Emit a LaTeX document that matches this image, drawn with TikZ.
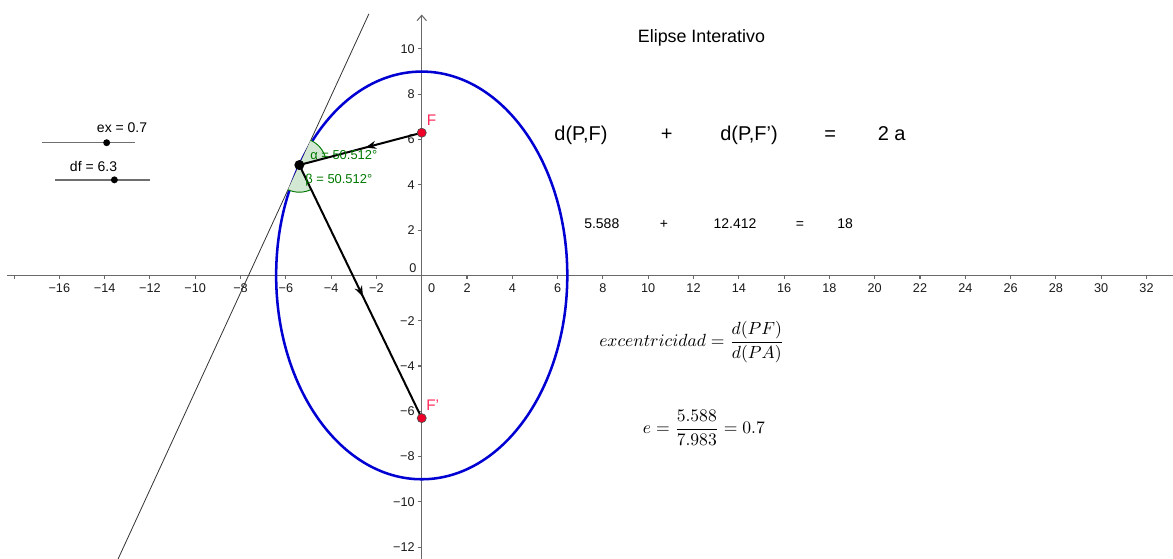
\documentclass[tikz,border=0pt]{standalone}
\usepackage{graphicx}
\usepackage{fontspec}
\setmainfont{Liberation Sans}
\usetikzlibrary{arrows.meta,decorations.markings}
\definecolor{ellblue}{RGB}{0,0,210}
\definecolor{axgray}{RGB}{105,105,105}
\definecolor{anggreen}{RGB}{0,120,0}
\definecolor{angfill}{RGB}{210,232,210}
\definecolor{ptred}{RGB}{240,0,40}
\definecolor{lblred}{RGB}{255,40,90}
\definecolor{slgray}{RGB}{110,110,110}
\pgfdeclarelayer{bg}
\pgfsetlayers{bg,main}
\begin{document}
\begin{tikzpicture}[x=16.99pt,y=16.99pt,
  axisline/.style={draw=axgray,line width=0.8pt},
  ticklbl/.style={font=\fontsize{9.5}{10}\selectfont,text=black!90,inner sep=0pt},
  ellline/.style={draw=ellblue,line width=1.9pt},
  tanline/.style={draw=black!80,line width=0.6pt},
  vec/.style={draw=black,line width=1.5pt},
  bigtxt/.style={font=\fontsize{15}{18}\selectfont,anchor=base,inner sep=0pt},
  smalltxt/.style={font=\fontsize{10.5}{12}\selectfont,anchor=base,inner sep=0pt},
  sltxt/.style={font=\fontsize{10.5}{12}\selectfont,anchor=base,inner sep=0pt},
  angtxt/.style={font=\fontsize{9.7}{11}\selectfont,text=anggreen,anchor=west,inner sep=0pt},
  ptlbl/.style={font=\fontsize{11.5}{13}\selectfont,text=lblred,anchor=base west,inner sep=0pt},
  bigpt/.style={circle,fill=black,inner sep=0pt,minimum size=7.5pt},
  redpt/.style={circle,fill=ptred,draw=black!70,line width=0.5pt,inner sep=0pt,minimum size=6.8pt},
  slpt/.style={circle,fill=black,inner sep=0pt,minimum size=5.2pt},
  slline/.style={draw=slgray,line width=1.1pt},
  formula/.style={inner sep=0pt},
  angarc/.style={draw=anggreen,line width=0.7pt},
  midarrow/.style={postaction={decorate},decoration={markings,mark=at position #1 with {\arrow{Stealth[length=8pt,width=6pt]}}}}
]
\useasboundingbox (-18.62,-12.52) rectangle (33.17,12.16);

% points (main layer)
\node[bigpt] (P) at (-5.40306,4.8743) {};
\node[redpt] (F) at (0,6.3) {};
\node[redpt] (Fp) at (0,-6.3) {};

\begin{pgfonlayer}{bg}
% axes
\coordinate (xa1) at (-18.3,0);
\coordinate (xa2) at (33.17,0);
\coordinate (ya1) at (0,-12.52);
\coordinate (ya2) at (0,11.52);
\draw[axisline] (xa1) -- (xa2);
\draw[axisline,-{Straight Barb[length=4pt,width=7pt]}] (ya1) -- (ya2);
\foreach \x in {-18,-16,...,-2,2,4,...,32} \draw[axisline] (\x,0) -- (\x,-0.15);
\foreach \y in {-12,-10,...,-2,2,4,...,10} \draw[axisline] (0,\y) -- (-0.15,\y);
\foreach \x in {2,4,...,16} \node[ticklbl,anchor=north] (xn\x) at (-\x,-0.36) {−\x};
\foreach \x in {2,4,...,32} \node[ticklbl,anchor=north] (xp\x) at (\x,-0.36) {\x};
\foreach \y in {2,4,...,12} \node[ticklbl,anchor=east] (yn\y) at (-0.3,-\y) {−\y};
\foreach \y in {2,4,...,10} \node[ticklbl,anchor=east] (yp\y) at (-0.3,\y) {\y};
\node[ticklbl,anchor=north] (x0) at (0.44,-0.36) {0};
\node[ticklbl,anchor=south east] (y0) at (-0.22,0.1) {0};

% ellipse
\draw[ellline] (0,0) ellipse [x radius=6.42729, y radius=9];

% tangent line
\coordinate (T1) at (-2.3315,11.55);
\coordinate (T2) at (-13.443,-12.6);
\draw[tanline] (T1) -- (T2);

% angle sectors
\fill[angfill] (P.center) -- ++(14.78:1.2) arc[start angle=14.78,end angle=65.30,radius=1.2] -- cycle;
\fill[angfill] (P.center) -- ++(-114.70:1.2) arc[start angle=-114.70,end angle=-64.196,radius=1.2] -- cycle;
\draw[angarc] (P.center) ++(14.78:1.2) arc[start angle=14.78,end angle=65.30,radius=1.2];
\draw[angarc] (P.center) ++(-114.70:1.2) arc[start angle=-114.70,end angle=-64.196,radius=1.2];

% vectors
\draw[vec,midarrow=0.46] (F.center) -- (P.center);
\draw[vec,midarrow=0.52] (P.center) -- (Fp.center);

% sliders
\coordinate (s1a) at (-16.76,5.86);
\coordinate (s1b) at (-12.66,5.86);
\coordinate (s2a) at (-16.19,4.22);
\coordinate (s2b) at (-11.99,4.22);
\draw[slline] (s1a) -- (s1b);
\draw[slline] (s2a) -- (s2b);
\end{pgfonlayer}

\node[slpt] (ex) at (-13.91,5.86) {};
\node[slpt] (df) at (-13.57,4.22) {};
\node[sltxt] (exl) at (-13.23,6.32) {ex = 0.7};
\node[sltxt] (dfl) at (-14.49,4.58) {df = 6.3};

% labels of points and angles
\node[ptlbl] (Fl) at (0.22,6.60) {F};
\node[ptlbl] (Fpl) at (0.19,-5.97) {F'};
\node[angtxt] (al) at (-4.93,5.32) {α = 50.512°};
\node[angtxt] (bl) at (-5.15,4.19) {β = 50.512°};

% title
\node[font=\fontsize{13.4}{16}\selectfont,anchor=base,inner sep=0pt] (title) at (12.35,10.28) {Elipse Interativo};

% equation rows
\node[bigtxt] (r1a) at (7.03,5.94) {d(P,F)};
\node[bigtxt] (r1b) at (10.82,5.94) {+};
\node[bigtxt] (r1c) at (14.45,5.94) {d(P,F')};
\node[bigtxt] (r1d) at (18.03,5.94) {=};
\node[bigtxt] (r1e) at (20.75,5.94) {2 a};
\node[smalltxt] (r2a) at (7.95,2.08) {5.588};
\node[smalltxt] (r2b) at (10.70,2.08) {+};
\node[smalltxt] (r2c) at (13.83,2.08) {12.412};
\node[smalltxt] (r2d) at (16.70,2.08) {=};
\node[smalltxt] (r2e) at (18.69,2.08) {18};

% formulas
\node[formula] (f1) at (11.92,-2.95) {\scalebox{1.32}{$\displaystyle excentricidad=\frac{d(PF)}{d(PA)}$}};
\node[formula] (f2) at (12.46,-6.75) {\scalebox{1.32}{$\displaystyle e=\frac{5.588}{7.983}=0.7$}};
\end{tikzpicture}
\end{document}
